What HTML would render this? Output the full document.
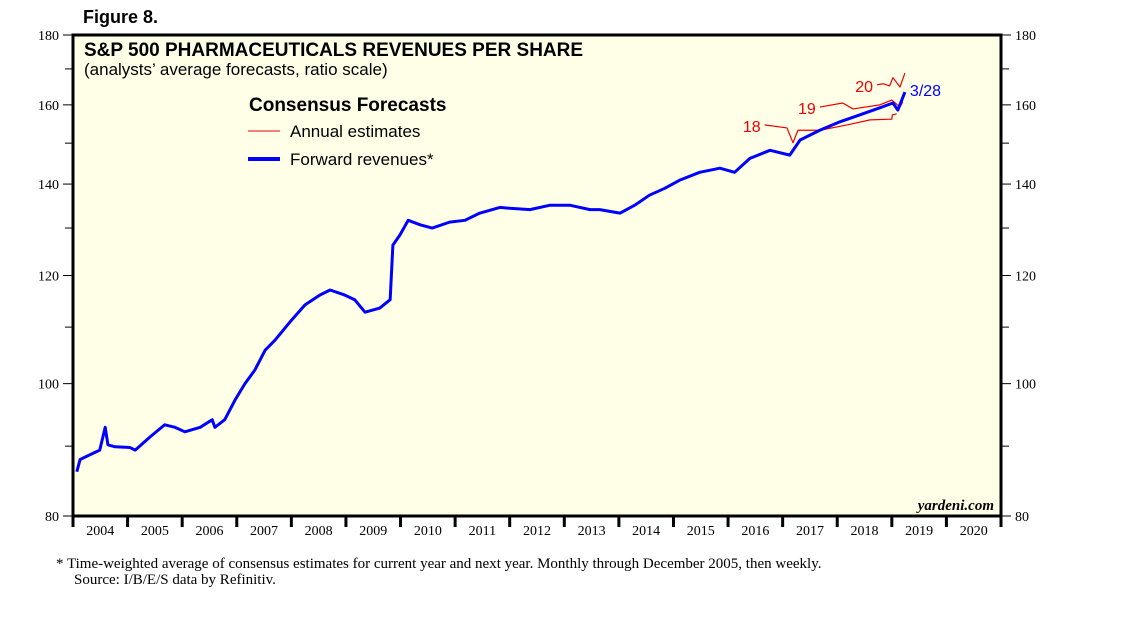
<!DOCTYPE html>
<html><head><meta charset="utf-8"><style>
body{margin:0;background:#fff;width:1138px;height:621px;overflow:hidden}
svg{display:block;font-family:"Liberation Sans",sans-serif}
</style></head><body>
<svg id="c" width="1138" height="621">
<rect x="73" y="35" width="928" height="481" fill="#ffffe8" stroke="#000" stroke-width="3"/>
<text x="83" y="23" font-size="18" font-weight="bold">Figure 8.</text>
<text x="84" y="56" font-size="19" font-weight="bold">S&amp;P 500 PHARMACEUTICALS REVENUES PER SHARE</text>
<text x="84" y="75" font-size="17">(analysts’ average forecasts, ratio scale)</text>
<text x="249" y="111" font-size="19" font-weight="bold">Consensus Forecasts</text>
<line x1="248" y1="131" x2="280" y2="131" stroke="#e00" stroke-width="1"/>
<text x="290" y="137" font-size="17">Annual estimates</text>
<line x1="248" y1="159" x2="280" y2="159" stroke="#00f" stroke-width="4"/>
<text x="290" y="165" font-size="17">Forward revenues*</text>
<text x="994" y="510" font-size="15" font-weight="bold" font-style="italic" font-family="Liberation Serif,serif" text-anchor="end">yardeni.com</text>
<text x="56" y="568" font-size="15" font-family="Liberation Serif,serif">*  Time-weighted average of consensus estimates for current year and next year. Monthly through December 2005, then weekly.</text>
<text x="74" y="584" font-size="15" font-family="Liberation Serif,serif">Source: I/B/E/S data by Refinitiv.</text>
<g id="ax"></g><g id="marks"></g>
</svg>
<script>
const yTicks=[80,100,120,140,160,180];
const yMinor=[90,110,130,150,170];
const years=[2004,2005,2006,2007,2008,2009,2010,2011,2012,2013,2014,2015,2016,2017,2018,2019,2020];
const fwdDates=[2004.07,2004.13,2004.31,2004.49,2004.59,2004.64,2004.77,2005.04,2005.14,2005.41,2005.68,2005.87,2006.05,2006.33,2006.55,2006.60,2006.78,2006.97,2007.15,2007.33,2007.52,2007.70,2007.97,2008.25,2008.52,2008.71,2008.98,2009.16,2009.35,2009.62,2009.81,2009.86,2009.99,2010.14,2010.36,2010.58,2010.90,2011.18,2011.45,2011.82,2012.00,2012.37,2012.74,2013.10,2013.47,2013.65,2014.02,2014.29,2014.56,2014.84,2015.11,2015.48,2015.85,2016.12,2016.40,2016.77,2017.13,2017.32,2017.68,2018.05,2018.41,2018.78,2019.02,2019.11,2019.24];
const fwdValues=[86.2,88.0,88.7,89.4,92.9,90.2,89.9,89.8,89.4,91.4,93.3,92.9,92.2,92.9,94.1,92.9,94.1,97.3,100,102.3,105.8,107.6,110.9,114.2,116.1,117.1,116.1,115.2,112.8,113.6,115.2,126.3,128.5,131.7,130.7,130.0,131.3,131.7,133.3,134.6,134.4,134.1,135.1,135.1,134.1,134.1,133.3,135.1,137.4,139.0,140.9,142.8,143.8,142.8,146.2,148.2,147.0,150.8,153.3,155.5,157.3,159.2,160.5,158.6,163.5];
const e18Dates=[2016.67,2017.08,2017.19,2017.28,2017.68,2018.19,2018.60,2019.0,2019.01,2019.09];
const e18Values=[154.7,153.9,150.1,153.3,153.3,154.7,156.0,156.2,157.3,157.6];
const e19Dates=[2017.68,2018.10,2018.29,2018.78,2019.0,2019.15,2019.20];
const e19Values=[159.4,160.5,158.9,160.0,161.3,159.4,160.8];
const e20Dates=[2018.73,2018.84,2018.96,2019.02,2019.15,2019.24];
const e20Values=[165.5,165.8,165.2,167.5,164.9,168.8];
const X0=73,X1=1001,Y0=516,Y1=35;
const xs=d=>X0+(d-2004)/(2021-2004)*(X1-X0);
const ys=v=>Y0-Math.log(v/80)/Math.log(180/80)*(Y0-Y1);
const NS="http://www.w3.org/2000/svg";
const ax=document.getElementById('ax'),mk=document.getElementById('marks');
function el(p,t,a){const e=document.createElementNS(NS,t);for(const k in a)e.setAttribute(k,a[k]);p.appendChild(e);return e;}
yTicks.forEach(v=>{const y=ys(v);
 let l=el(ax,'line',{x1:X0-10,x2:X0,y1:y,y2:y,stroke:'#000'});
 
 
 l=el(ax,'line',{x1:X1,x2:X1+10,y1:y,y2:y,stroke:'#000'});
 
 
 let t=el(ax,'text',{x:X0-14,y:y+5,'text-anchor':'end','font-size':14,'font-family':'Liberation Serif,serif'});t.textContent=v;
 
 
 t=el(ax,'text',{x:X1+14,y:y+5,'font-size':14,'font-family':'Liberation Serif,serif'});t.textContent=v;
 
 
});
yMinor.forEach(v=>{const y=ys(v);
 let l=el(ax,'line',{x1:X0-8,x2:X0,y1:y,y2:y,stroke:'#000'});
 
 
 l=el(ax,'line',{x1:X1,x2:X1+8,y1:y,y2:y,stroke:'#000'});
 
 
});
years.concat([2021]).forEach(yr=>{const x=xs(yr);
 const l=el(ax,'line',{x1:x,x2:x,y1:Y0,y2:Y0+11,stroke:'#000','stroke-width':3});
 
 
});
years.forEach(yr=>{const t=el(ax,'text',{x:xs(yr+0.5),y:Y0+19,'text-anchor':'middle','font-size':14,'font-family':'Liberation Serif,serif'});t.textContent=yr;
 
 
});
function line(ds,vs,col,w,name){const p=el(mk,'polyline',{points:ds.map((d,i)=>xs(d)+','+ys(vs[i])).join(' '),fill:'none',stroke:col,'stroke-width':w,'stroke-linejoin':'round'});
 
 }
line(e18Dates,e18Values,'#e00',1.2,'estimate-2018-line');
line(e19Dates,e19Values,'#e00',1.2,'estimate-2019-line');
line(e20Dates,e20Values,'#e00',1.2,'estimate-2020-line');
line(fwdDates,fwdValues,'#00f',3,'forward-revenues-line');
function lab(txt,x,y,col,name){const t=el(mk,'text',{x:x,y:y,'font-size':16,fill:col,'text-anchor':'end'});t.textContent=txt;
 
 }
lab('18',xs(e18Dates[0])-4,ys(e18Values[0])+7,'#e00','label-2018');
lab('19',xs(e19Dates[0])-4,ys(e19Values[0])+7,'#e00','label-2019');
lab('20',xs(e20Dates[0])-4,ys(e20Values[0])+7,'#e00','label-2020');
const n=fwdDates.length-1;
const t=el(mk,'text',{x:xs(fwdDates[n])+5,y:ys(fwdValues[n])+4,'font-size':16,fill:'#00f'});t.textContent='3/28';


</script>
</body></html>
